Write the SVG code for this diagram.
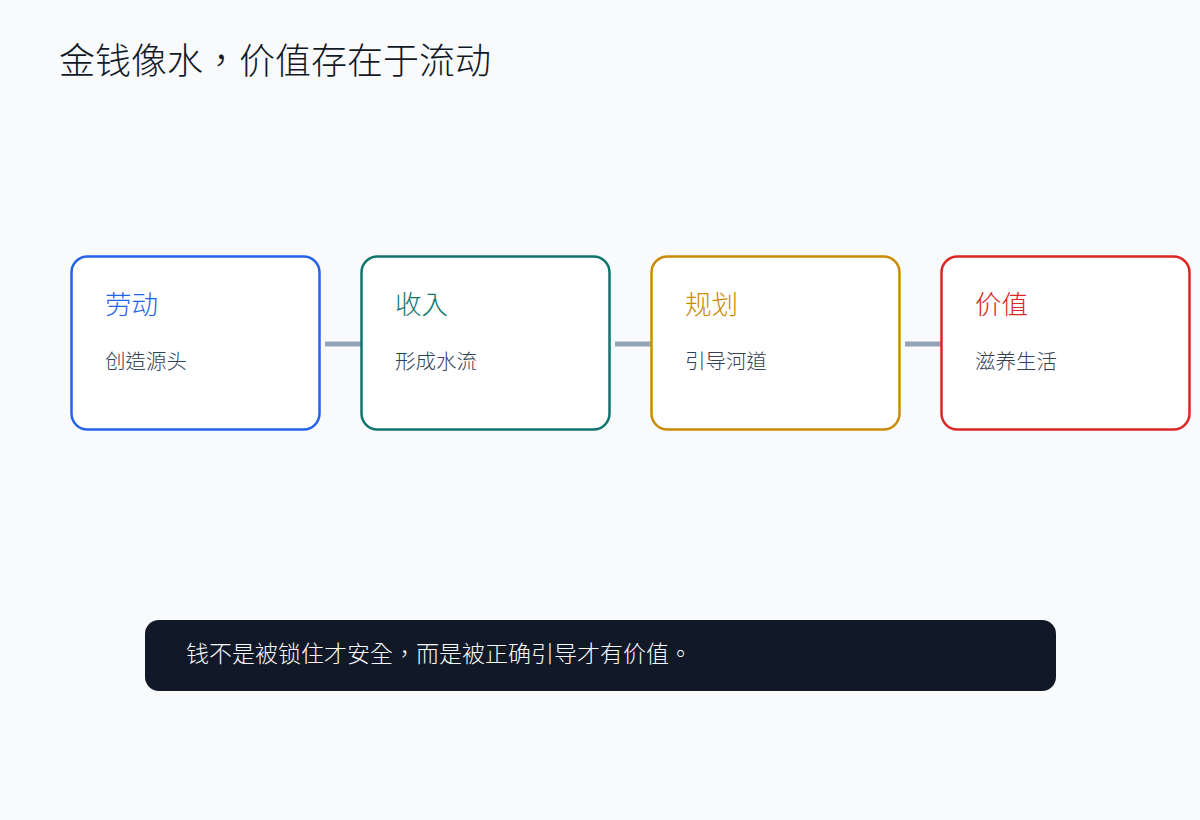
<svg xmlns="http://www.w3.org/2000/svg" width="1200" height="820" viewBox="0 0 1200 820">
<style>
text{font-family:"Noto Sans CJK TC","Noto Sans CJK SC",sans-serif;font-weight:300}
.title{font-size:36px;fill:#111827}
.box{fill:#ffffff;stroke-width:2.5}
.h{font-size:26.5px}
.sub{font-size:20.5px;fill:#334155}
.conn{stroke:#94a3b8;stroke-width:5}
.note{font-size:23px;fill:#f8fafc}
</style>
<rect width="1200" height="820" fill="#f8fafc"/>
<text class="title" x="59" y="74">金钱像水，价值存在于流动</text>
<g id="connectors">
<line class="conn" x1="325" y1="344" x2="361" y2="344"/>
<line class="conn" x1="615" y1="344" x2="651" y2="344"/>
<line class="conn" x1="905" y1="344" x2="941" y2="344"/>
</g>
<g id="node-labor">
<rect class="box" x="71.5" y="256.5" width="248" height="173" rx="16" stroke="#2563eb"/>
<text class="h" x="105" y="314" fill="#2563eb">劳动</text>
<text class="sub" x="105" y="369">创造源头</text>
</g>
<g id="node-income">
<rect class="box" x="361.5" y="256.5" width="248" height="173" rx="16" stroke="#0f766e"/>
<text class="h" x="395" y="314" fill="#0f766e">收入</text>
<text class="sub" x="395" y="369">形成水流</text>
</g>
<g id="node-plan">
<rect class="box" x="651.5" y="256.5" width="248" height="173" rx="16" stroke="#ca8a04"/>
<text class="h" x="685" y="314" fill="#ca8a04">规划</text>
<text class="sub" x="685" y="369">引导河道</text>
</g>
<g id="node-value">
<rect class="box" x="941.5" y="256.5" width="248" height="173" rx="16" stroke="#dc2626"/>
<text class="h" x="975" y="314" fill="#dc2626">价值</text>
<text class="sub" x="975" y="369">滋养生活</text>
</g>
<g id="note">
<rect x="145" y="620" width="911" height="71" rx="14" fill="#111827"/>
<text class="note" x="186" y="662">钱不是被锁住才安全，而是被正确引导才有价值。</text>
</g>
</svg>
